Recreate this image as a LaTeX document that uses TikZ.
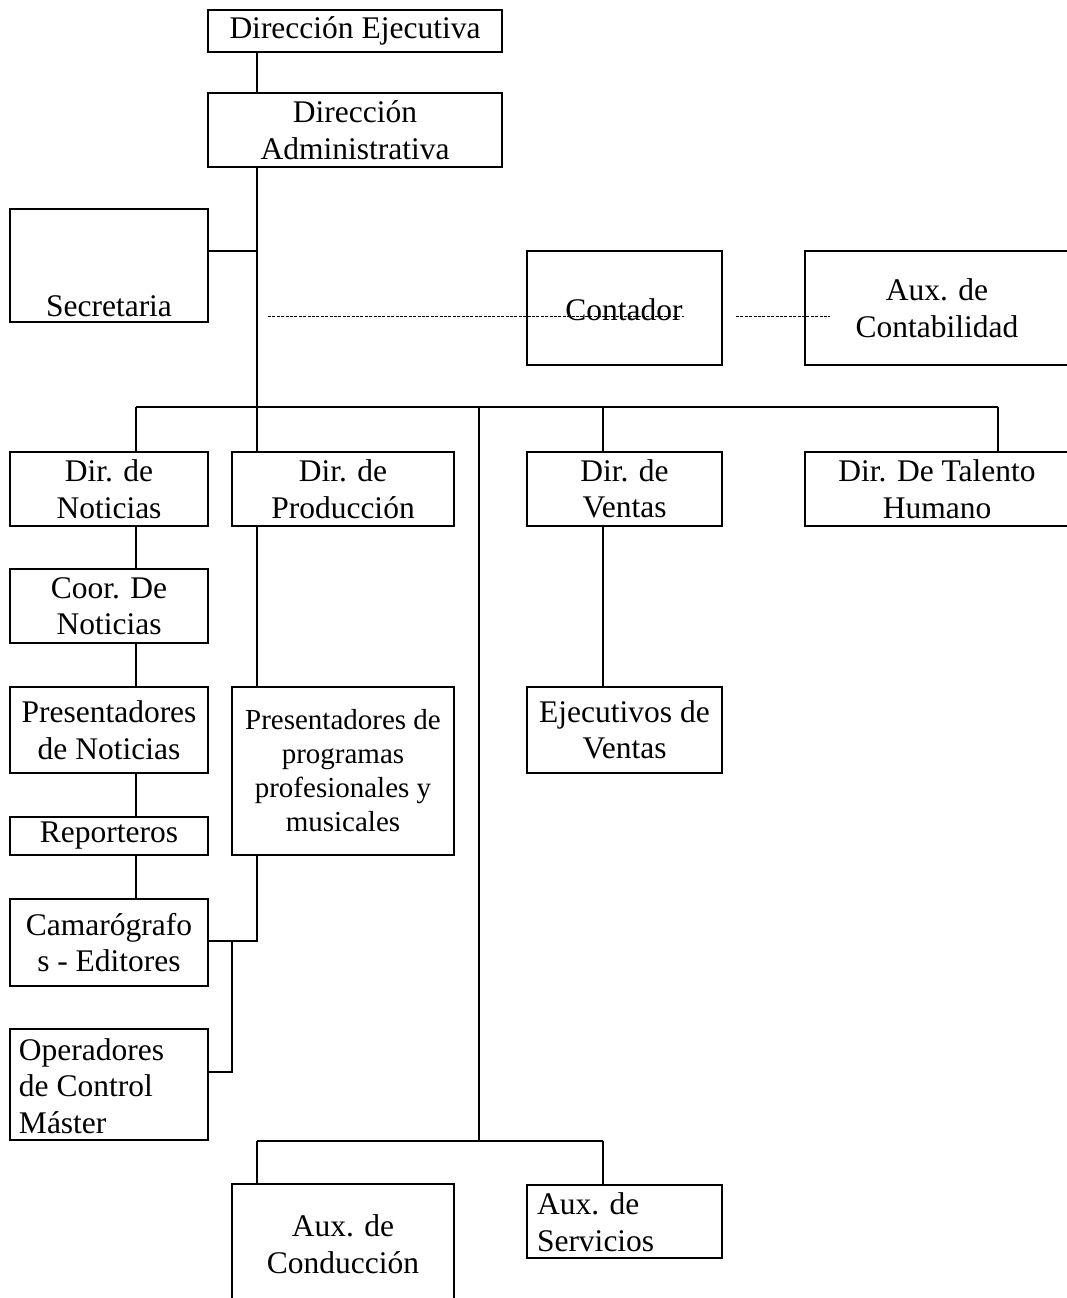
\documentclass[tikz,border=0pt]{standalone}
\usepackage{fontspec}
\setmainfont{Liberation Serif}
\newcommand\orgfont{\fontsize{31.5}{36.5}\selectfont}
\newcommand\orgsmall{\fontsize{29}{34}\selectfont}
% box given by its corners: [options]{name}{x1}{y1}{x2}{y2}{text}
\newcommand\orgbox[7][]{%
  \node[box,minimum width={#5pt-#3pt},minimum height={#6pt-#4pt},#1]
    (#2) at ({(#3+#5)/2},{(#4+#6)/2}) {#7};}
\tikzset{
  box/.style={draw,line width=2.5pt,inner sep=0pt,outer sep=0pt,align=center,font=\orgfont},
  txt/.style={inner sep=0pt,outer sep=0pt,font=\orgfont},
  link/.style={line width=2.5pt},
  dotlink/.style={line width=1pt,dash pattern=on 3pt off 1.4pt}
}
\begin{document}
\begin{tikzpicture}[x=1pt,y=-1pt]
\useasboundingbox[fill=white] (0,0) rectangle (1066,1298);

% boxes
\orgbox{dej}{208}{10}{502}{52}{Dirección Ejecutiva}
\orgbox{dad}{208}{93}{502}{167}{Dirección\\Administrativa}
\orgbox{sec}{10}{209}{208}{322}{}
\node[txt,anchor=base] at (109,316) {Secretaria};
\orgbox{con}{527}{251}{722}{365}{}
\node[txt] at (624,310) {Contador};
\orgbox{auxc}{805}{251}{1069}{365}{Aux. de\\Contabilidad}

\orgbox{dnot}{10}{452}{208}{526}{Dir. de\\Noticias}
\orgbox{dpro}{232}{452}{454}{526}{Dir. de\\Producción}
\orgbox{dven}{527}{452}{722}{526}{Dir. de\\Ventas}
\orgbox{dtal}{805}{452}{1069}{526}{Dir. De Talento\\Humano}

\orgbox{coor}{10}{569}{208}{643}{Coor. De\\Noticias}
\orgbox{pnot}{10}{687}{208}{773}{Presentadores\\de Noticias}
\orgbox{rep}{10}{817}{208}{855}{Reporteros}
\orgbox{cam}{10}{899}{208}{986}{Camarógrafo\\s - Editores}
\orgbox{ope}{10}{1029}{208}{1140}{}
\node[txt,align=left,anchor=west] at (19,1086) {Operadores\\de Control\\Máster};

\orgbox[font=\orgsmall]{ppm}{232}{687}{454}{855}{Presentadores de\\programas\\profesionales y\\musicales}
\orgbox{ejv}{527}{687}{722}{773}{Ejecutivos de\\Ventas}

\orgbox{auxd}{232}{1184}{454}{1304}{Aux. de\\Conducción}
\orgbox{auxs}{527}{1185}{722}{1258}{}
\node[txt,align=left,anchor=west] at (537,1222) {Aux. de\\Servicios};

% junction points of the connectors
\coordinate (cN) at (136,407);
\coordinate (cP) at (257,407);
\coordinate (cL) at (479,407);
\coordinate (cV) at (603,407);
\coordinate (cT) at (998,407);
\coordinate (secj) at (257,251);
\coordinate (camj) at (232,941);
\coordinate (opej) at (232,1072);
\coordinate (cB) at (479,1141);
\coordinate (dA) at (268,316);
\coordinate (dB) at (684,316);
\coordinate (dC) at (736,316);
\coordinate (dD) at (830,316);

% solid connectors
\draw[link] (dej.south -| cP) -- (dad.north -| cP);
\draw[link] (dad.south -| cP) -- (cP);
\draw[link] (sec.east |- secj) -- (secj);
\draw[link] (cN) -- (cT);
\draw[link] (cN) -- (cN |- dnot.north);
\draw[link] (cP) -- (cP |- dpro.north);
\draw[link] (cV) -- (cV |- dven.north);
\draw[link] (cT) -- (cT |- dtal.north);

\draw[link] (cN |- dnot.south) -- (cN |- coor.north);
\draw[link] (cN |- coor.south) -- (cN |- pnot.north);
\draw[link] (cN |- pnot.south) -- (cN |- rep.north);
\draw[link] (cN |- rep.south) -- (cN |- cam.north);

\draw[link] (cP |- dpro.south) -- (cP |- ppm.north);
\draw[link] (cP |- ppm.south) -- (cP |- camj) -- (cam.east |- camj);
\draw[link] (camj) -- (opej) -- (ope.east |- opej);

\draw[link] (cV |- dven.south) -- (cV |- ejv.north);

\draw[link] (cL) -- (cB);
\draw[link] (cB -| cP) -- (cB -| cV);
\draw[link] (cB -| cP) -- (cP |- auxd.north);
\draw[link] (cB -| cV) -- (cV |- auxs.north);

% dashed links to accounting
\draw[dotlink] (dA) -- (dB);
\draw[dotlink] (dC) -- (dD);
\end{tikzpicture}
\end{document}
